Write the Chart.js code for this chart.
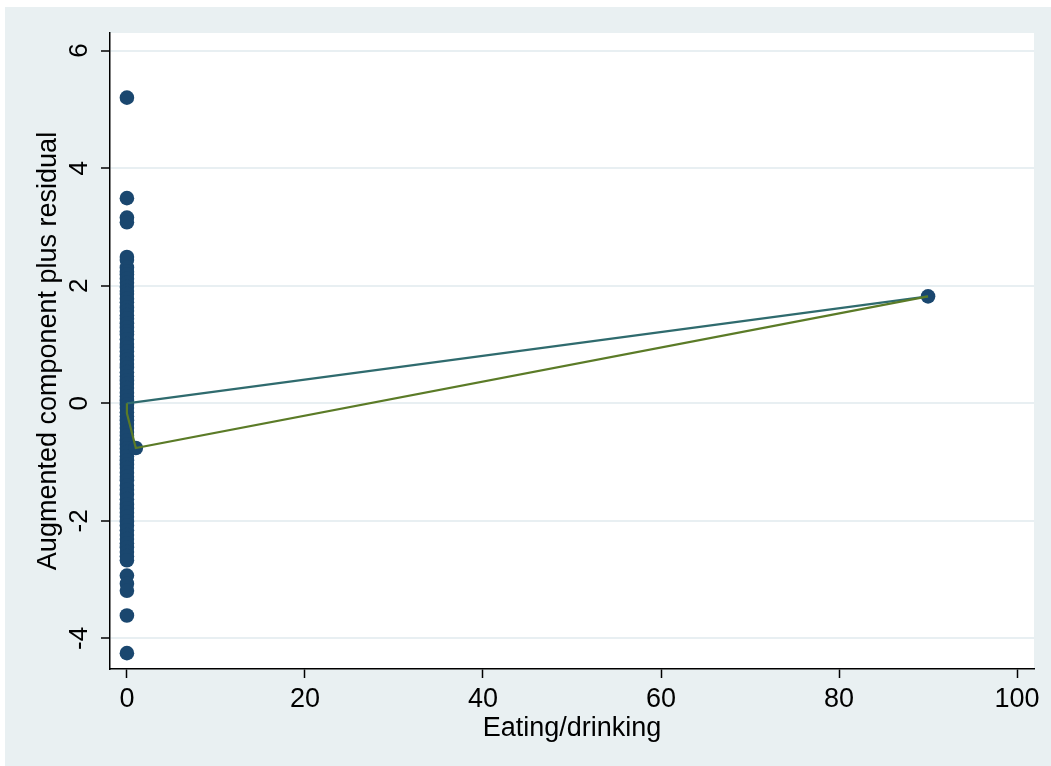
<!DOCTYPE html>
<html>
<head>
<meta charset="utf-8">
<script src="https://cdn.jsdelivr.net/npm/chart.js@4/dist/chart.umd.min.js"></script>
<style>
  html, body { margin: 0; padding: 0; background: #ffffff; }
  canvas { display: block; }
</style>
</head>
<body>
<canvas id="c" width="1051" height="766"></canvas>
<script>
// Augmented component-plus-residual values for observations with Eating/drinking = 0
const residAtZero = [
  5.20, 3.49, 3.16, 3.08,
  2.49, 2.44, 2.31, 2.24, 2.19, 2.12, 2.05, 1.98, 1.91, 1.86, 1.78, 1.72,
  1.63, 1.57, 1.50, 1.44, 1.36, 1.29, 1.22, 1.17, 1.09, 1.01, 0.95, 0.88,
  0.80, 0.74, 0.67, 0.61, 0.53, 0.46, 0.39, 0.33, 0.26, 0.18, 0.12, 0.05,
  -0.02, -0.08, -0.15, -0.22, -0.29, -0.35, -0.42, -0.49, -0.55, -0.63,
  -0.70, -0.77, -0.83, -0.90, -0.97, -1.04, -1.10, -1.18, -1.25, -1.31,
  -1.40, -1.47, -1.55, -1.63, -1.72, -1.79, -1.86, -1.93, -2.01, -2.08,
  -2.16, -2.24, -2.31, -2.38, -2.45, -2.53, -2.60, -2.67,
  -2.93, -3.07, -3.19, -3.61, -4.25
];
// Observations with non-zero Eating/drinking
const otherX = [1, 90];
const otherY = [-0.76, 1.82];

// Linear fit (component line)
const fitX = [0, 90];
const fitY = [0.0, 1.82];

// Lowess smooth
const lowessX = [0, 0, 1, 90];
const lowessY = [0.0, -0.17, -0.76, 1.82];

// Axis ticks
const xTicks = [0, 20, 40, 60, 80, 100];
const yTicks = [-4, -2, 0, 2, 4, 6];

const scatterPts = residAtZero.map(v => ({ x: 0, y: v }))
  .concat(otherX.map((x, i) => ({ x: x, y: otherY[i] })));
const fitPts = fitX.map((x, i) => ({ x: x, y: fitY[i] }));
const lowessPts = lowessX.map((x, i) => ({ x: x, y: lowessY[i] }));

const FONT = "'Liberation Sans', Arial, Helvetica, sans-serif";

const backdrop = {
  id: 'backdrop',
  beforeDraw(chart) {
    const ctx = chart.ctx;
    const a = chart.chartArea;
    ctx.save();
    ctx.fillStyle = '#ffffff';
    ctx.fillRect(0, 0, chart.width, chart.height);
    ctx.fillStyle = '#e9f0f2';
    ctx.fillRect(5, 7, chart.width - 5, chart.height - 7);
    ctx.fillStyle = '#ffffff';
    ctx.fillRect(a.left, a.top, a.right - a.left, a.bottom - a.top);
    ctx.restore();
  }
};

new Chart(document.getElementById('c'), {
  type: 'scatter',
  data: {
    datasets: [
      {
        data: scatterPts,
        pointRadius: 7.3,
        pointHoverRadius: 7.3,
        pointBackgroundColor: '#1a476f',
        pointBorderWidth: 0,
        showLine: false,
        order: 3
      },
      {
        data: fitPts,
        showLine: true,
        borderColor: '#2f6b6e',
        borderWidth: 2.2,
        pointRadius: 0,
        order: 2
      },
      {
        data: lowessPts,
        showLine: true,
        borderColor: '#5b7b27',
        borderWidth: 2.2,
        pointRadius: 0,
        order: 1
      }
    ]
  },
  options: {
    responsive: false,
    animation: false,
    devicePixelRatio: 1,
    layout: { padding: { top: 33, right: 17, left: 0, bottom: 0 } },
    plugins: { legend: { display: false }, tooltip: { enabled: false } },
    scales: {
      x: {
        type: 'linear',
        min: -1.9,
        max: 101.9,
        afterBuildTicks: s => { s.ticks = xTicks.map(v => ({ value: v })); },
        afterFit: s => { s.height = 97; },
        border: { display: true, color: '#000000', width: 1.5 },
        grid: {
          display: true,
          drawOnChartArea: false,
          drawTicks: true,
          tickLength: 9,
          tickColor: '#000000',
          tickWidth: 1.5
        },
        ticks: {
          font: { family: FONT, size: 27 },
          color: '#000000',
          padding: 5,
          maxRotation: 0,
          minRotation: 0
        },
        title: {
          display: true,
          text: 'Eating/drinking',
          font: { family: FONT, size: 27 },
          color: '#000000',
          padding: { top: 0, bottom: 21 }
        }
      },
      y: {
        type: 'linear',
        min: -4.52,
        max: 6.30,
        afterBuildTicks: s => { s.ticks = yTicks.map(v => ({ value: v })); },
        afterFit: s => { s.width = 110; },
        border: { display: true, color: '#000000', width: 1.5 },
        grid: {
          display: true,
          drawOnChartArea: true,
          color: '#e8eff2',
          lineWidth: 2,
          drawTicks: true,
          tickLength: 9,
          tickColor: '#000000',
          tickWidth: 1.5
        },
        ticks: {
          font: { family: FONT, size: 26 },
          color: '#000000',
          padding: 10,
          minRotation: 90,
          maxRotation: 90,
          crossAlign: 'center'
        },
        title: {
          display: true,
          text: 'Augmented component plus residual',
          font: { family: FONT, size: 27 },
          color: '#000000',
          padding: { top: 32, bottom: 0 }
        }
      }
    }
  },
  plugins: [backdrop]
});
</script>
</body>
</html>
